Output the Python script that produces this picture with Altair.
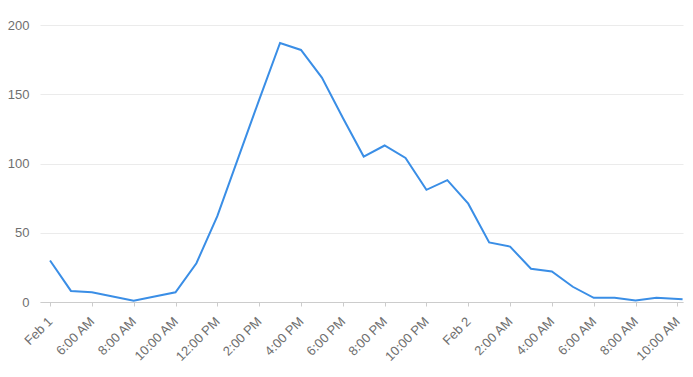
import altair as alt
import pandas as pd

# Hours since Feb 1, 4:00 AM (last point is a partial hour)
hours = [0, 1, 2, 3, 4, 5, 6, 7, 8, 9, 10, 11, 12, 13, 14, 15, 16, 17, 18, 19,
         20, 21, 22, 23, 24, 25, 26, 27, 28, 29, 30.25]
values = [30, 8, 7, 4, 1, 4, 7, 28, 62, 104, 146, 187, 182, 162, 133, 105, 113, 104,
          81, 88, 71, 43, 40, 24, 22, 11, 3, 3, 1, 3, 2]

tick_positions = list(range(0, 31, 2))
tick_labels = ["Feb 1", "6:00 AM", "8:00 AM", "10:00 AM", "12:00 PM", "2:00 PM",
               "4:00 PM", "6:00 PM", "8:00 PM", "10:00 PM", "Feb 2", "2:00 AM",
               "4:00 AM", "6:00 AM", "8:00 AM", "10:00 AM"]
y_ticks = [0, 50, 100, 150, 200]

df = pd.DataFrame({"h": hours, "v": values})

label_arr = "[" + ",".join("'" + s + "'" for s in tick_labels) + "]"

chart = alt.Chart(df).mark_line(color="#3a8ee6", strokeWidth=2).encode(
    x=alt.X("h:Q",
            scale=alt.Scale(domain=[-0.48, 30.27], nice=False, zero=False),
            axis=alt.Axis(values=tick_positions, labelExpr=label_arr + "[round(datum.value/2)]",
                          title=None, grid=False, labelAngle=-45, labelAlign="right",
                          labelBaseline="middle", labelPadding=13,
                          labelFont="Liberation Sans", labelFontSize=13, labelColor="#6f6f6f",
                          domainColor="#cccccc", tickColor="#cccccc", tickSize=4,
                          labelOverlap=False, labelBound=False, labelFlush=False)),
    y=alt.Y("v:Q",
            scale=alt.Scale(domain=[0, 200], nice=False),
            axis=alt.Axis(values=y_ticks, title=None, domain=False, ticks=False,
                          labelPadding=11, labelFont="Liberation Sans", labelFontSize=13,
                          labelColor="#6f6f6f", gridColor="#ebebeb", gridWidth=1)),
).properties(
    width=643, height=277,
    autosize=alt.AutoSizeParams(type="none"),
    padding={"left": 40, "top": 25, "right": 10, "bottom": 75},
).configure_view(stroke=None)

chart.save("out.html", embed_options={"renderer": "svg", "actions": False})
